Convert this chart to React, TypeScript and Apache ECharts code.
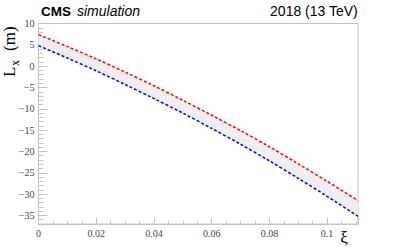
import React, { useEffect, useRef } from "react";
import * as echarts from "echarts";

const xi = [0, 0.01, 0.02, 0.03, 0.04, 0.05, 0.06, 0.07, 0.08, 0.09, 0.1, 0.1107];
const redLx = [7.4, 4.6, 1.7, -1.4, -4.6, -8.0, -11.5, -15.1, -18.9, -22.9, -27.0, -31.5];
const blueLx = [4.8, 1.9, -1.1, -4.3, -7.6, -11.0, -14.6, -18.3, -22.2, -26.3, -30.5, -35.2];
const xMin = 0;
const xMax = 0.1107;
const yMin = -37;
const yMax = 10;
const titleLeft = "CMS";
const titleItalic = "simulation";
const titleRight = "2018 (13 TeV)";

const FRAME = "#c4c4c4";
const LABEL = "#444";

export default function App() {
  const ref = useRef<HTMLDivElement>(null);
  useEffect(() => {
    if (!ref.current) return;
    const chart = echarts.init(ref.current, undefined, { renderer: "svg" });
    const red = xi.map((x, i) => [x, redLx[i]]);
    const blue = xi.map((x, i) => [x, blueLx[i]]);
    const serif = "'Liberation Serif', 'DejaVu Serif', serif";
    const sans = "'Liberation Sans', Arial, sans-serif";
    chart.setOption({
      animation: false,
      backgroundColor: "#fff",
      grid: {
        left: 38.5,
        right: 41,
        top: 23.5,
        bottom: 26,
        show: true,
        borderColor: FRAME,
        borderWidth: 1,
        backgroundColor: "transparent",
      },
      xAxis: [
        {
          type: "value",
          min: xMin,
          max: xMax,
          minInterval: 0.02,
          maxInterval: 0.02,
          splitNumber: 5,
          axisLine: { show: true, onZero: false, lineStyle: { color: FRAME } },
          axisTick: { show: true, inside: true, length: 6, lineStyle: { color: FRAME } },
          splitLine: { show: false },
          axisLabel: {
            margin: 4,
            color: LABEL,
            fontFamily: serif,
            fontSize: 10,
            formatter: (v: number) => {
              const k = Math.round(v / 0.02);
              if (Math.abs(v - k * 0.02) > 1e-6) return "";
              return String(parseFloat((k * 0.02).toFixed(3)));
            },
          },
        },
        {
          type: "value",
          min: xMin,
          max: xMax,
          interval: 0.005,
          position: "bottom",
          axisLine: { show: false, onZero: false },
          axisTick: { show: true, inside: true, length: 3, lineStyle: { color: FRAME } },
          splitLine: { show: false },
          axisLabel: { show: false },
        },
      ],
      yAxis: [
        {
          type: "value",
          min: yMin,
          max: yMax,
          minInterval: 5,
          maxInterval: 5,
          splitNumber: 9,
          axisLine: { show: true, onZero: false, lineStyle: { color: FRAME } },
          axisTick: { show: true, inside: true, length: 9, lineStyle: { color: FRAME } },
          splitLine: { show: false },
          axisLabel: {
            margin: 4,
            color: LABEL,
            fontFamily: serif,
            fontSize: 10,
            formatter: (v: number) => {
              const k = Math.round(v / 5);
              if (Math.abs(v - k * 5) > 1e-6) return "";
              const n = k * 5;
              return n < 0 ? "\u2212" + Math.abs(n) : String(n);
            },
          },
        },
        {
          type: "value",
          min: yMin,
          max: yMax,
          interval: 1,
          position: "left",
          axisLine: { show: false, onZero: false },
          axisTick: { show: true, inside: true, length: 5, lineStyle: { color: FRAME } },
          splitLine: { show: false },
          axisLabel: { show: false },
        },
      ],
      series: [
        {
          type: "custom",
          name: "band",
          data: [[xi[0], redLx[0]]],
          z: 1,
          silent: true,
          renderItem: (_params: any, api: any) => {
            const top = xi.map((x, i) => api.coord([x, redLx[i]]));
            const bottom = xi.map((x, i) => api.coord([x, blueLx[i]])).reverse();
            return {
              type: "polygon",
              shape: { points: top.concat(bottom), smooth: 0 },
              style: { fill: "#efefef", stroke: "none" },
            };
          },
        },
        {
          type: "line",
          name: "upper",
          data: red,
          symbol: "none",
          smooth: 0.3,
          lineStyle: { color: "#ff0000", width: 1.5, type: [3, 2] },
          z: 3,
        },
        {
          type: "line",
          name: "lower",
          data: blue,
          symbol: "none",
          smooth: 0.3,
          lineStyle: { color: "#0000ff", width: 1.5, type: [3, 2] },
          z: 3,
        },
      ],
      graphic: [
        {
          type: "text",
          left: 41,
          top: 4,
          style: { text: titleLeft, font: `bold 13.5px ${sans}`, fill: "#000" },
        },
        {
          type: "text",
          left: 77,
          top: 4,
          style: { text: titleItalic, font: `italic 14px ${sans}`, fill: "#000" },
        },
        {
          type: "text",
          right: 41,
          top: 4,
          style: { text: titleRight, font: `14px ${sans}`, fill: "#000" },
        },
        {
          type: "group",
          x: 18,
          y: 77,
          rotation: Math.PI / 2,
          children: [
            {
              type: "text",
              x: 0,
              y: 0,
              style: { text: "L", font: `17px ${serif}`, fill: "#000", textAlign: "left", textVerticalAlign: "bottom" },
            },
            {
              type: "text",
              x: 11,
              y: 3,
              style: { text: "x", font: `12px ${serif}`, fill: "#000", textAlign: "left", textVerticalAlign: "bottom" },
            },
            {
              type: "text",
              x: 26,
              y: 0,
              style: { text: "(m)", font: `17px ${serif}`, fill: "#000", textAlign: "left", textVerticalAlign: "bottom" },
            },
          ],
        },
        {
          type: "text",
          x: 344,
          y: 237,
          style: { text: "\u03be", font: `17px ${serif}`, fill: "#000", textAlign: "center", textVerticalAlign: "middle" },
        },
      ],
    });
    return () => chart.dispose();
  }, []);
  return <div ref={ref} style={{ width: 399, height: 250, position: "absolute", left: 0, top: 0 }} />;
}
